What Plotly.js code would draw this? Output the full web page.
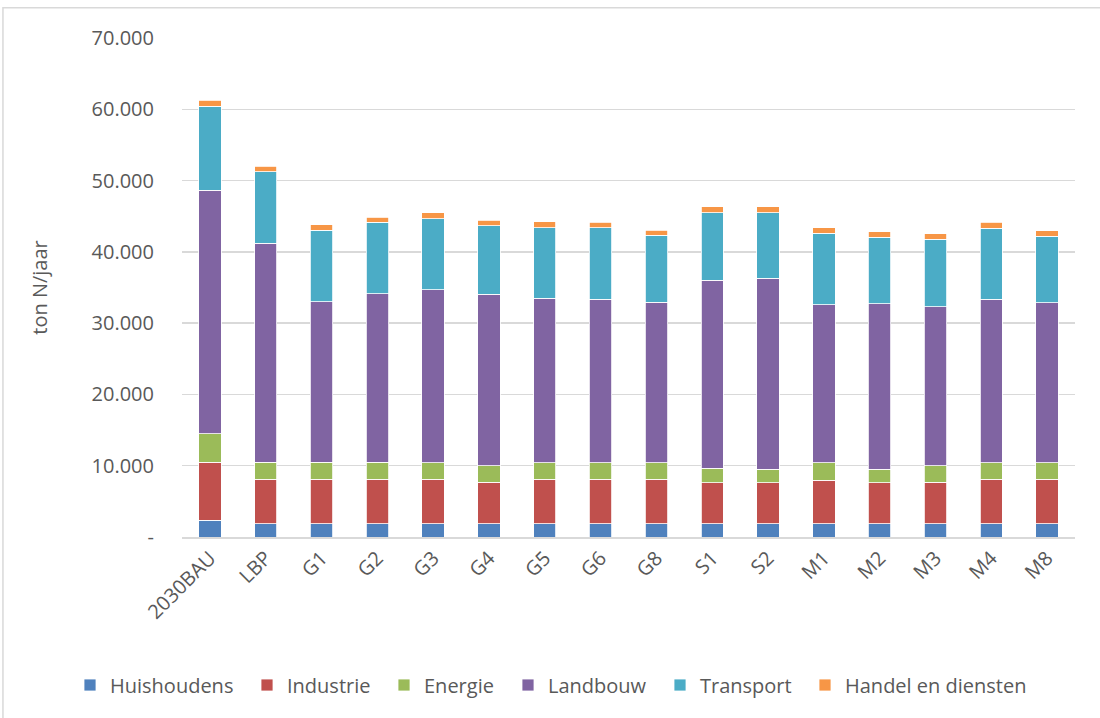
<!DOCTYPE html>
<html>
<head>
<meta charset="utf-8">
<script src="https://cdn.plot.ly/plotly-3.0.1.min.js"></script>
<style>
html,body{margin:0;padding:0;background:#fff;}
#chart{width:1100px;height:718px;}
</style>
</head>
<body>
<div id="chart"></div>
<script>
const categories = ["2030BAU","LBP","G1","G2","G3","G4","G5","G6","G8","S1","S2","M1","M2","M3","M4","M8"];
const huishoudens = [2340,1880,1880,1880,1880,1880,1880,1880,1880,1880,1880,1880,1880,1880,1880,1880];
const industrie   = [8160,6200,6200,6200,6200,5820,6200,6200,6200,5740,5740,6100,5740,5820,6200,6200];
const energie     = [3980,2380,2380,2380,2340,2300,2340,2340,2340,2000,1860,2440,1860,2300,2340,2340];
const landbouw    = [34170,30720,22550,23630,24270,24030,23050,22910,22490,26380,26790,22130,23210,22270,22910,22410];
const transport   = [11770,10040,10040,10030,9990,9620,9910,10050,9390,9520,9250,10030,9330,9520,10000,9380];
const handel      = [880,800,750,750,800,750,840,740,750,840,840,800,800,750,840,740];

const seriesNames = ["Huishoudens","Industrie","Energie","Landbouw","Transport","Handel en diensten"];
const seriesValues = [huishoudens,industrie,energie,landbouw,transport,handel];
const seriesColors = ["#4F81BD","#C0504D","#9BBB59","#8064A2","#4BACC6","#F79646"];

const yTickVals = [0,10000,20000,30000,40000,50000,60000,70000];
const yTickText = ["-","10.000","20.000","30.000","40.000","50.000","60.000","70.000"];

const font = "'Open Sans', 'Liberation Sans', sans-serif";
const textColor = "#595959";
const W = 1100, H = 718;

// left edge (px) of each legend entry's colour square
const legendSquareLeft = [84, 261, 398, 522, 674, 819];

const legendKey = i => (i === 0 ? "legend" : "legend" + (i + 1));

const traces = seriesNames.map((n,i)=>({
  type:"bar",
  name:n,
  x:categories,
  y:seriesValues[i],
  legend:legendKey(i),
  marker:{color:seriesColors[i], line:{color:"#ffffff", width:0.8}},
  hoverinfo:"x+y+name"
}));

const layout = {
  width:W, height:H,
  barmode:"stack",
  bargap:0.6,
  paper_bgcolor:"#ffffff",
  plot_bgcolor:"#ffffff",
  margin:{l:182, r:25, t:38, b:181},
  font:{family:font, size:20, color:textColor},
  showlegend:true,
  xaxis:{
    type:"category",
    tickangle:-45,
    tickfont:{family:font, size:20, color:textColor},
    showline:true, linecolor:"#d9d9d9", linewidth:1.5,
    ticks:"", showgrid:false, zeroline:false
  },
  yaxis:{
    range:[0,70000],
    tickvals:yTickVals, ticktext:yTickText,
    tickfont:{family:font, size:20, color:textColor},
    showgrid:true, gridcolor:"#d9d9d9", gridwidth:1.5,
    zeroline:false, showline:false, ticks:"",
    ticklabelstandoff:27,
    title:{text:"ton N/jaar", font:{family:font, size:20, color:textColor}, standoff:38}
  },
  shapes:[
    {type:"rect", xref:"paper", yref:"paper", x0:-0.2005, x1:1.2, y0:-0.6, y1:1.0605,
     line:{color:"#d9d9d9", width:1.5}, fillcolor:"rgba(0,0,0,0)"}
  ]
};

seriesNames.forEach((n,i)=>{
  layout[legendKey(i)] = {
    orientation:"h", xref:"container", yref:"container",
    x:(legendSquareLeft[i] - 14) / W, xanchor:"left",
    y:(H - 685) / H, yanchor:"middle",
    font:{family:font, size:20, color:textColor},
    itemwidth:30, bgcolor:"rgba(0,0,0,0)", borderwidth:0
  };
});

Plotly.newPlot("chart", traces, layout, {displayModeBar:false, staticPlot:true});
</script>
</body>
</html>
